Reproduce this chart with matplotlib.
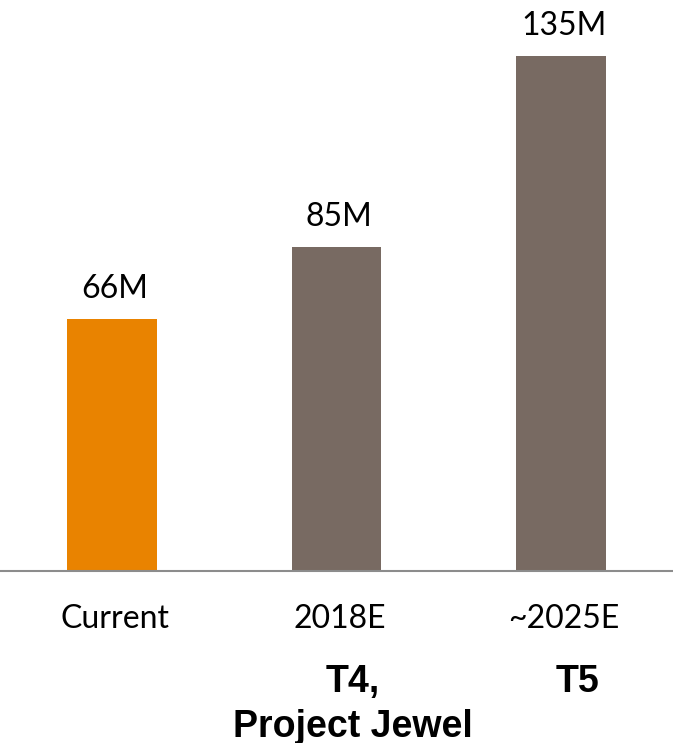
import matplotlib.pyplot as plt

categories = ["Current", "2018E", "~2025E"]
values = [66, 85, 135]
value_labels = ["66M", "85M", "135M"]
sub_labels = ["", "T4,\nProject Jewel", "T5"]
colors = ["#E98300", "#786A62", "#786A62"]

fig = plt.figure(figsize=(6.73, 7.43), dpi=100)
ax = fig.add_axes([0, 0.2315, 1, 0.7685])

x = list(range(len(categories)))
ax.bar(x, values, width=0.4, color=colors)
ax.set_xlim(-0.5, 2.5)
ax.set_ylim(0, 149.7)

for s in ["top", "left", "right"]:
    ax.spines[s].set_visible(False)
ax.spines["bottom"].set_color("#8C8C8C")
ax.spines["bottom"].set_linewidth(1.5)
ax.set_yticks([])
ax.set_xticks([])

# value labels above bars
for i in x:
    ax.annotate(value_labels[i], (i, values[i]), xytext=(2, 15), textcoords="offset points",
                ha="center", va="baseline", fontsize=23, family="Lato")

# category labels below axis
for i in x:
    ax.annotate(categories[i], (i, 0), xycoords=("data", "axes fraction"),
                xytext=(2, -41), textcoords="offset points",
                ha="center", va="baseline", fontsize=23, family="Lato")

# bold terminal labels
for i in x:
    for j, line in enumerate(sub_labels[i].split("\n")):
        if not line:
            continue
        ax.annotate(line, (i, 0), xycoords=("data", "axes fraction"),
                    xytext=(12, -87 - j * 32.5), textcoords="offset points",
                    ha="center", va="baseline", fontsize=27, fontweight="bold",
                    family="Liberation Sans")

fig.savefig("out.png", dpi=100)
